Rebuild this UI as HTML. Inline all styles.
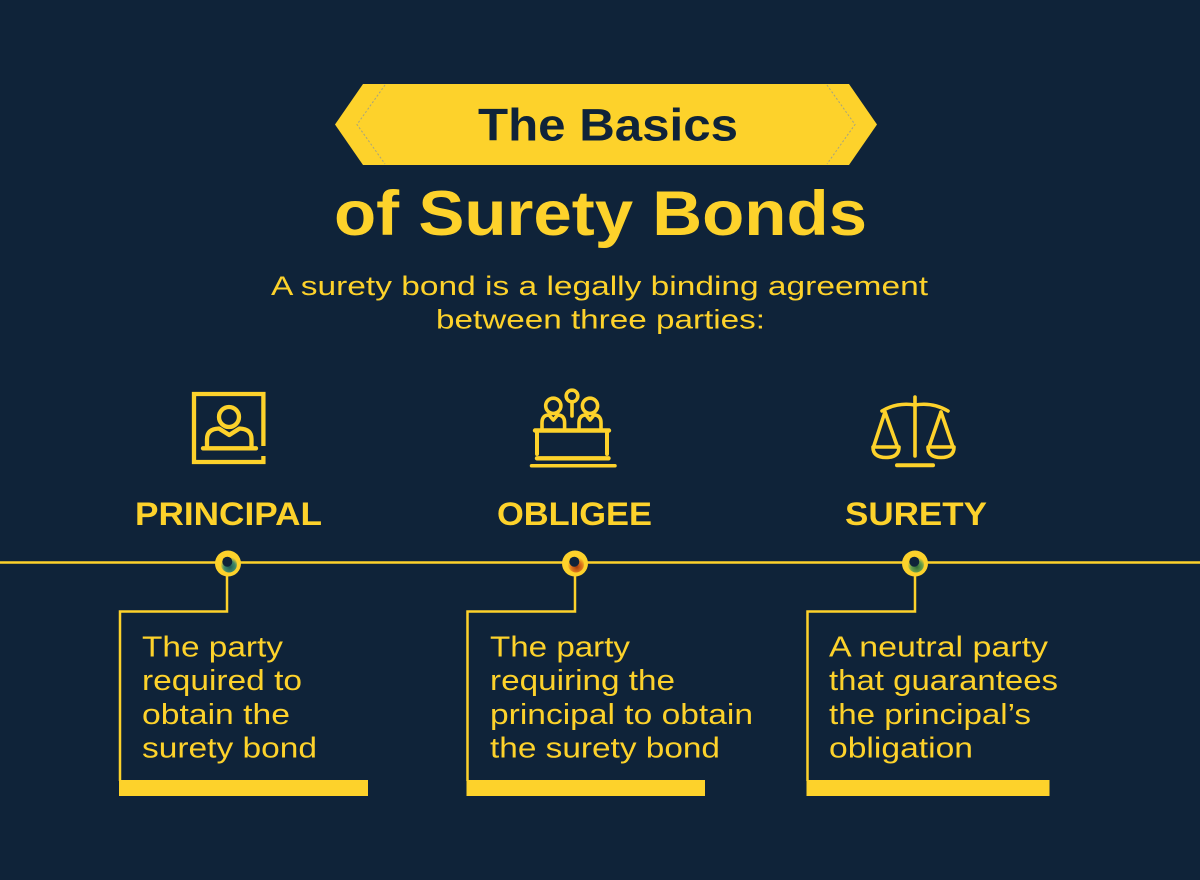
<!DOCTYPE html>
<html>
<head>
<meta charset="utf-8">
<style>
  html,body{margin:0;padding:0;background:#0f2339;}
  svg{display:block;}
  text{font-family:"Liberation Sans",sans-serif;}
</style>
</head>
<body>
<svg width="1200" height="880" viewBox="0 0 1200 880" xmlns="http://www.w3.org/2000/svg">
  <defs>
    <radialGradient id="gT" cx="0.55" cy="0.65" r="0.6">
      <stop offset="0" stop-color="#1f5a55"/>
      <stop offset="0.6" stop-color="#3f8a6a"/>
      <stop offset="1" stop-color="#fdd22b"/>
    </radialGradient>
    <radialGradient id="gO" cx="0.55" cy="0.65" r="0.6">
      <stop offset="0" stop-color="#a23a10"/>
      <stop offset="0.6" stop-color="#e07a1c"/>
      <stop offset="1" stop-color="#fdd22b"/>
    </radialGradient>
    <radialGradient id="gS" cx="0.55" cy="0.65" r="0.6">
      <stop offset="0" stop-color="#2f6a3a"/>
      <stop offset="0.6" stop-color="#6aa04a"/>
      <stop offset="1" stop-color="#fdd22b"/>
    </radialGradient>
  </defs>

  <rect x="0" y="0" width="1200" height="880" fill="#0f2339"/>

  <!-- Banner -->
  <polygon points="335,124.5 363,84 849,84 877,124.5 849,165 363,165" fill="#fdd22b"/>
  <polyline points="385,85 357,124.5 385,164" fill="none" stroke="#7d8ea8" stroke-width="1" stroke-dasharray="2,2" opacity="0.7"/>
  <polyline points="827,85 855,124.5 827,164" fill="none" stroke="#7d8ea8" stroke-width="1" stroke-dasharray="2,2" opacity="0.7"/>
  <text x="478" y="140.5" font-size="45" font-weight="bold" fill="#0f2339" textLength="260" lengthAdjust="spacingAndGlyphs">The Basics</text>

  <text x="334" y="235" font-size="63" font-weight="bold" fill="#fdd22b" textLength="533" lengthAdjust="spacingAndGlyphs">of Surety Bonds</text>

  <text x="271" y="295" font-size="27" fill="#fdd22b" textLength="657" lengthAdjust="spacingAndGlyphs">A surety bond is a legally binding agreement</text>
  <text x="436" y="328.5" font-size="27" fill="#fdd22b" textLength="329" lengthAdjust="spacingAndGlyphs">between three parties:</text>

  <!-- Principal icon -->
  <g fill="none" stroke="#fdd22b" stroke-width="4.3" stroke-linecap="round" stroke-linejoin="round">
    <path d="M263.4,446 V394 H194 V462 H263.4 V456" stroke-linecap="butt" stroke-linejoin="miter"/>
    <circle cx="229" cy="417" r="10"/>
    <path d="M207,446 V439 Q207,429 219,428.5 L229.3,435 L239.5,428.5 Q251.5,429 251.5,439 V446"/>
    <line x1="203" y1="448.3" x2="256" y2="448.3"/>
  </g>

  <!-- Obligee icon -->
  <g fill="none" stroke="#fdd22b" stroke-width="3.6" stroke-linecap="round" stroke-linejoin="round">
    <circle cx="572" cy="396" r="5.8"/>
    <path d="M572,402 V416"/>
    <circle cx="553.3" cy="405.8" r="7.6"/>
    <circle cx="590" cy="405.8" r="7.6"/>
    <path d="M542,429 V423 Q542,415 549,415 L553.3,420 L557.6,415 Q564.6,415 564.6,423 V429"/>
    <path d="M579,429 V423 Q579,415 586,415 L590,420 L594,415 Q601,415 601,423 V429"/>
    <line x1="535" y1="430.5" x2="609" y2="430.5" stroke-width="4.4"/>
    <line x1="537" y1="432" x2="537" y2="454" stroke-width="4"/>
    <line x1="607" y1="432" x2="607" y2="454" stroke-width="4"/>
    <line x1="537" y1="458.3" x2="608.5" y2="458.3" stroke-width="4.4"/>
    <line x1="531.5" y1="465.7" x2="615" y2="465.7" stroke-width="3.5"/>
  </g>

  <!-- Surety icon (scales) -->
  <g fill="none" stroke="#fdd22b" stroke-width="3.6" stroke-linecap="round" stroke-linejoin="round">
    <line x1="915" y1="397" x2="915" y2="456"/>
    <line x1="897" y1="465.3" x2="933" y2="465.3" stroke-width="4"/>
    <path d="M882,411 Q897,402 915,405 Q933,402 948,411"/>
    <path d="M885,412 L873.5,447 M885,412 L897.5,447"/>
    <path d="M873,447 H899 Q899,457.5 886,457.5 Q873,457.5 873,447 Z"/>
    <path d="M941,412 L929,447 M941,412 L953,447"/>
    <path d="M928,447 H954 Q954,457.5 941,457.5 Q928,457.5 928,447 Z"/>
  </g>

  <!-- Labels -->
  <text x="135" y="525" font-size="32" font-weight="bold" fill="#fdd22b" textLength="187" lengthAdjust="spacingAndGlyphs">PRINCIPAL</text>
  <text x="497" y="525" font-size="32" font-weight="bold" fill="#fdd22b" textLength="155" lengthAdjust="spacingAndGlyphs">OBLIGEE</text>
  <text x="845" y="525" font-size="32" font-weight="bold" fill="#fdd22b" textLength="142" lengthAdjust="spacingAndGlyphs">SURETY</text>

  <!-- Timeline -->
  <line x1="0" y1="562.5" x2="1200" y2="562.5" stroke="#fdd22b" stroke-width="2.5"/>

  <!-- Connectors -->
  <g fill="none" stroke="#fdd22b" stroke-width="2.5">
    <polyline points="227,575 227,611.5 120,611.5 120,781"/>
    <polyline points="575,575 575,611.5 467.5,611.5 467.5,781"/>
    <polyline points="915,575 915,611.5 807.5,611.5 807.5,781"/>
  </g>

  <!-- Bars -->
  <rect x="119" y="780" width="249" height="16" fill="#fdd22b"/>
  <rect x="466.5" y="780" width="238.5" height="16" fill="#fdd22b"/>
  <rect x="806.5" y="780" width="243" height="16" fill="#fdd22b"/>

  <!-- Markers -->
  <g>
    <circle cx="228" cy="563.5" r="13" fill="#fdd22b"/>
    <circle cx="229" cy="564.5" r="8" fill="url(#gT)"/>
    <circle cx="227.3" cy="561.7" r="5" fill="#0f2339"/>

    <circle cx="575" cy="563.5" r="13" fill="#fdd22b"/>
    <circle cx="576" cy="564.5" r="8" fill="url(#gO)"/>
    <circle cx="574.3" cy="561.7" r="5" fill="#0f2339"/>

    <circle cx="915" cy="563.5" r="13" fill="#fdd22b"/>
    <circle cx="916" cy="564.5" r="8" fill="url(#gS)"/>
    <circle cx="914.3" cy="561.7" r="5" fill="#0f2339"/>
  </g>

  <!-- Descriptions -->
  <g font-size="29" fill="#fdd22b">
    <text x="142" y="656.5" textLength="141" lengthAdjust="spacingAndGlyphs">The party</text>
    <text x="142" y="690" textLength="160" lengthAdjust="spacingAndGlyphs">required to</text>
    <text x="142" y="724" textLength="148" lengthAdjust="spacingAndGlyphs">obtain the</text>
    <text x="142" y="757.5" textLength="175" lengthAdjust="spacingAndGlyphs">surety bond</text>

    <text x="490" y="656.5" textLength="140" lengthAdjust="spacingAndGlyphs">The party</text>
    <text x="490" y="690" textLength="185" lengthAdjust="spacingAndGlyphs">requiring the</text>
    <text x="490" y="724" textLength="263" lengthAdjust="spacingAndGlyphs">principal to obtain</text>
    <text x="490" y="757.5" textLength="230" lengthAdjust="spacingAndGlyphs">the surety bond</text>

    <text x="829" y="656.5" textLength="219" lengthAdjust="spacingAndGlyphs">A neutral party</text>
    <text x="829" y="690" textLength="229" lengthAdjust="spacingAndGlyphs">that guarantees</text>
    <text x="829" y="724" textLength="202" lengthAdjust="spacingAndGlyphs">the principal’s</text>
    <text x="829" y="757.5" textLength="144" lengthAdjust="spacingAndGlyphs">obligation</text>
  </g>
</svg>
</body>
</html>
